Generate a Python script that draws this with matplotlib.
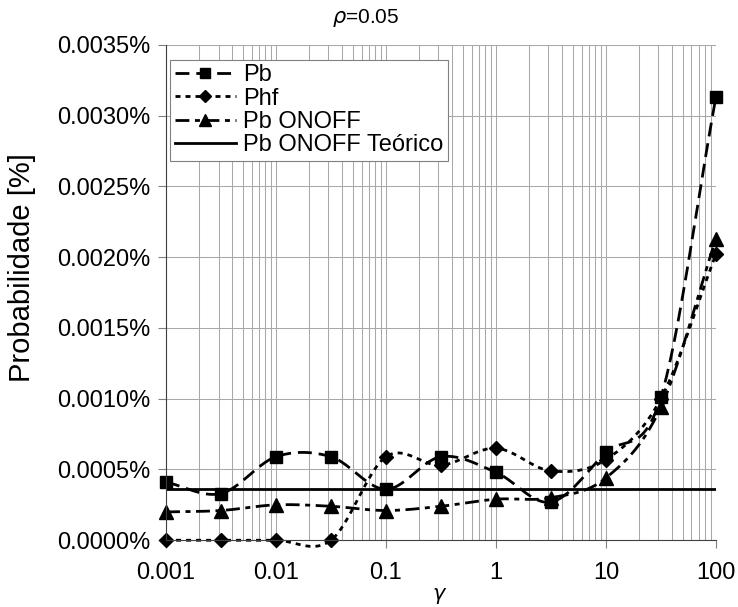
import numpy as np
import matplotlib.pyplot as plt
from matplotlib.ticker import FuncFormatter, LogLocator, NullFormatter

plt.rcParams['font.family'] = ['Liberation Sans', 'DejaVu Sans']

# gamma values (log spaced, half decades)
gamma = [0.001, 0.00316, 0.01, 0.0316, 0.1, 0.316, 1, 3.16, 10, 31.6, 100]

# probabilities in percent
pb       = [0.00041, 0.00033, 0.00059, 0.00059, 0.00036, 0.00059, 0.00048, 0.00027, 0.00062, 0.00101, 0.00313]
phf      = [0.0, 0.0, 0.0, 0.0, 0.00059, 0.00053, 0.00065, 0.00049, 0.00057, 0.00100, 0.00202]
pb_onoff = [0.00020, 0.00021, 0.00025, 0.00024, 0.00021, 0.00024, 0.00029, 0.00030, 0.00044, 0.00094, 0.00213]
pb_teorico = 0.00036


def smooth(xs, ys, n=30):
    # catmull-rom through the points, in log x (like excel smoothed lines)
    lx = np.log10(xs)
    ys = np.asarray(ys, float)
    px = np.concatenate([[2*lx[0]-lx[1]], lx, [2*lx[-1]-lx[-2]]])
    py = np.concatenate([[2*ys[0]-ys[1]], ys, [2*ys[-1]-ys[-2]]])
    ox, oy = [], []
    t = np.linspace(0, 1, n)
    for i in range(1, len(px)-2):
        for arr, out in ((px, ox), (py, oy)):
            p0, p1, p2, p3 = arr[i-1], arr[i], arr[i+1], arr[i+2]
            out.extend(0.5*((2*p1) + (-p0+p2)*t + (2*p0-5*p1+4*p2-p3)*t**2
                            + (-p0+3*p1-3*p2+p3)*t**3))
    return 10**np.array(ox), np.array(oy)


fig = plt.figure(figsize=(7.38, 6.07), dpi=100)
ax = fig.add_axes([0.225, 0.110, 0.745, 0.816])

series = [
    (pb, 's', (0, (5, 2.5)), 9, 'Pb'),
    (phf, 'D', (0, (1.8, 1.8)), 7.5, 'Phf'),
    (pb_onoff, '^', (0, (5, 2, 1.8, 2)), 10, 'Pb ONOFF'),
]
for ys, mk, ls, ms, lab in series:
    sx, sy = smooth(gamma, ys)
    ax.plot(sx, sy, color='black', lw=2, linestyle=ls, clip_on=False)
    ax.plot(gamma, ys, linestyle='none', marker=mk, color='black',
            markersize=ms, clip_on=False)
    ax.plot([], [], color='black', lw=2, linestyle=ls, marker=mk,
            markersize=ms, label=lab)

ax.axhline(pb_teorico, color='black', lw=2, label='Pb ONOFF Teórico')

ax.set_xscale('log')
ax.set_xlim(0.001, 100)
ax.set_ylim(0, 0.0035)
ax.set_yticks(np.arange(0, 0.00351, 0.0005))
ax.yaxis.set_major_formatter(FuncFormatter(lambda v, p: f'{v:.4f}%'))
ax.xaxis.set_major_locator(LogLocator(base=10, numticks=10))
ax.xaxis.set_major_formatter(FuncFormatter(lambda v, p: f'{v:g}'))
ax.xaxis.set_minor_locator(LogLocator(base=10, subs=np.arange(2, 10), numticks=20))
ax.xaxis.set_minor_formatter(NullFormatter())

ax.grid(True, which='major', color='#a8a8a8', lw=0.75)
ax.grid(True, which='minor', axis='x', color='#a8a8a8', lw=0.75)
ax.set_axisbelow(True)
for s in ['top', 'right']:
    ax.spines[s].set_visible(False)
ax.spines['left'].set_color('#404040')
ax.spines['bottom'].set_color('#404040')
ax.tick_params(axis='both', labelsize=17, length=6, direction='out',
               color='#808080')
ax.tick_params(axis='y', pad=5)
ax.tick_params(axis='x', pad=10)
ax.tick_params(axis='x', which='minor', length=0)

fig.text(0.495, 0.97, r'$\rho$=0.05', fontsize=15, ha='center', va='center')
ax.set_xlabel(r'$\gamma$', fontsize=15)
ax.xaxis.set_label_coords(0.497, -0.092)
ax.set_ylabel('Probabilidade [%]', fontsize=21)
ax.yaxis.set_label_coords(-0.237, 0.55)

leg = ax.legend(loc='upper left', fontsize=17, frameon=True, fancybox=False,
                edgecolor='#808080', framealpha=1, handlelength=2.6,
                borderpad=0.2, labelspacing=0.05, handletextpad=0.3,
                markerscale=0.8, borderaxespad=0,
                bbox_to_anchor=(0.007, 0.97))
leg.get_frame().set_linewidth(0.8)

fig.savefig('out.png', dpi=100)
